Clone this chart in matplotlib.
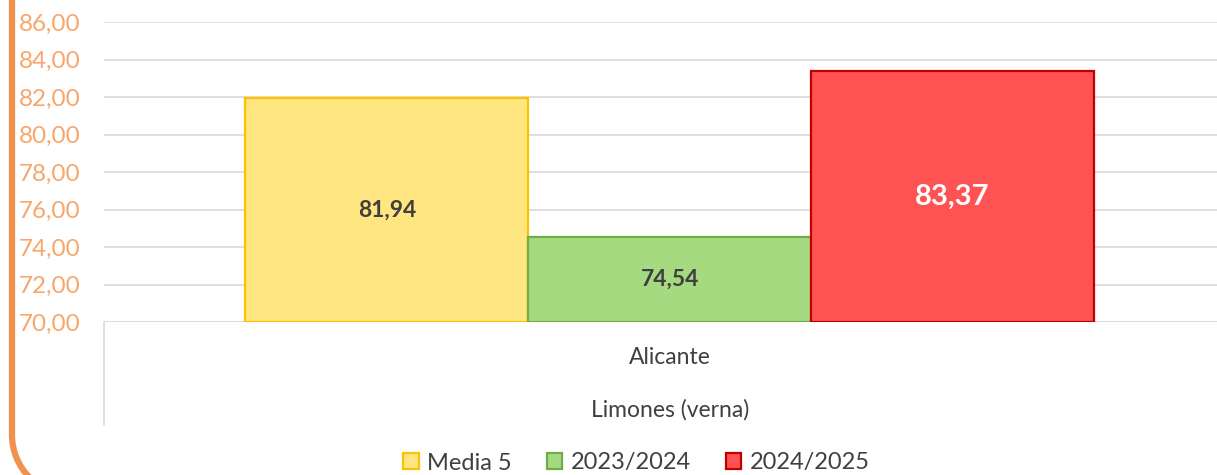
import matplotlib.pyplot as plt
from matplotlib.patches import Patch, Arc

# ── data ─────────────────────────────────────────────────────────────────────
series = ["Media 5", "2023/2024", "2024/2025"]
values = [81.94, 74.54, 83.37]
category = "Alicante"
group = "Limones (verna)"
y_ticks = [70, 72, 74, 76, 78, 80, 82, 84, 86]

fills = ["#FFE680", "#A6DA80", "#FF5353"]
edges = ["#FFC000", "#70AD47", "#C00000"]
label_colors = ["#404040", "#404040", "white"]
label_sizes = [16.5, 16.5, 21]

plt.rcParams["font.family"] = ["Lato", "DejaVu Sans"]

W, H = 1217, 475
fig = plt.figure(figsize=(W / 100, H / 100), dpi=100)
ax = fig.add_axes([104 / W, 1 - 322 / H, 1 - 104 / W, 300 / H])

base = y_ticks[0]
xs = [-1, 0, 1]
for x, v, fc, ec, lc, ls in zip(xs, values, fills, edges, label_colors, label_sizes):
    ax.bar(x, v - base, bottom=base, width=1.0, color=fc, edgecolor=ec,
           linewidth=1.6, zorder=3)
    ax.text(x, (base + v) / 2, f"{v:.2f}".replace(".", ","), ha="center",
            va="center", color=lc, fontsize=ls, fontweight="bold", zorder=4)

ax.set_xlim(-2, 1.935)
ax.set_ylim(y_ticks[0], y_ticks[-1])
ax.set_yticks(y_ticks)
ax.set_yticklabels([f"{t:.2f}".replace(".", ",") for t in y_ticks],
                   color="#F8A66A", fontsize=17.5)
ax.tick_params(axis="y", length=0, pad=17)
ax.set_xticks([])
ax.grid(axis="y", color="#D9D9D9", linewidth=1.2, zorder=0)
for s in ax.spines.values():
    s.set_visible(False)
ax.axhline(base, color="#D9D9D9", linewidth=1.2, zorder=2)

# multi-level category labels
tr = ax.get_xaxis_transform()
ax.text(0, -36 / 300, category, transform=tr, ha="center", va="center",
        fontsize=16.5, color="#404040")
ax.text(0, -88 / 300, group, transform=tr, ha="center", va="center",
        fontsize=16.5, color="#404040")
ax.plot([-2, -2], [0, -103 / 300], transform=tr, color="#D9D9D9",
        linewidth=1.2, clip_on=False)

handles = [Patch(facecolor=fc, edgecolor=ec, linewidth=1.6)
           for fc, ec in zip(fills, edges)]
fig.legend(handles, series, loc="center", bbox_to_anchor=(0.523, 1 - 463 / H),
           ncol=3, frameon=False, fontsize=17, handlelength=0.65,
           handleheight=0.65, handletextpad=0.35, columnspacing=1.5,
           labelcolor="#404040")

# orange rounded border on the left
ov = fig.add_axes([0, 0, 1, 1], facecolor="none")
ov.set_xlim(0, W)
ov.set_ylim(H, 0)
ov.axis("off")
ov.plot([12, 12], [-10, 435], color="#F0914E", linewidth=4.5,
        solid_capstyle="butt")
ov.add_patch(Arc((72, 435), 120, 120, theta1=90, theta2=180,
                 color="#F0914E", linewidth=4.5))

fig.savefig("out.png", dpi=100)
